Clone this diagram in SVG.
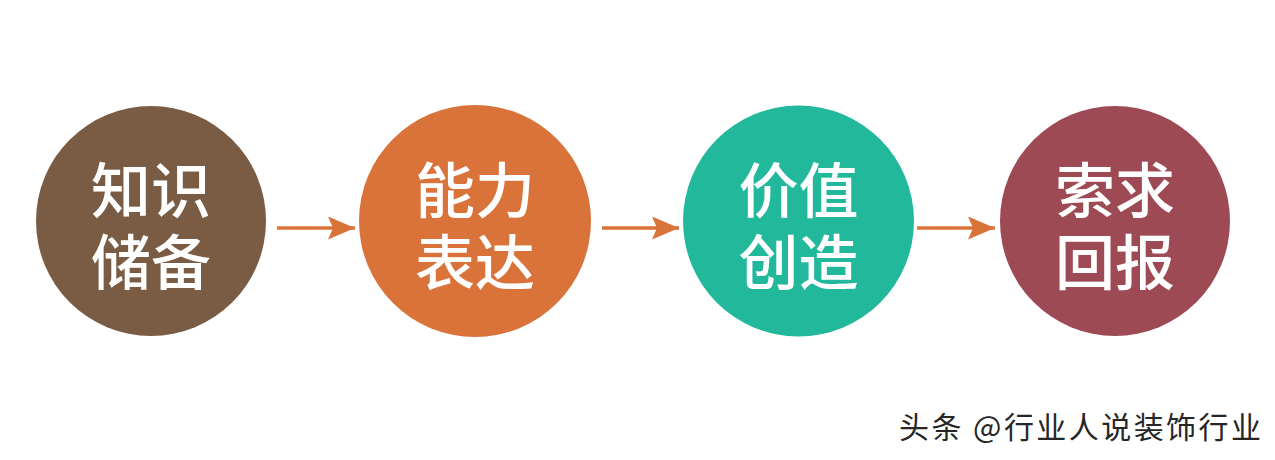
<svg xmlns="http://www.w3.org/2000/svg" width="1275" height="460" viewBox="0 0 1275 460">
  <style>
    .lbl { font-family: "Noto Sans CJK SC", "Noto Sans", sans-serif; font-size: 60px; font-weight: 500; fill: #ffffff; text-anchor: middle; }
    .conn { stroke: #d9733a; stroke-width: 3.5; fill: none; }
    .wm { font-family: "Noto Sans CJK SC", "Noto Sans", sans-serif; font-size: 30px; fill: #262626; }
  </style>
  <defs>
    <marker id="ah" markerUnits="userSpaceOnUse" markerWidth="28" markerHeight="24" refX="27" refY="11.5" orient="auto">
      <path d="M0,0 L27,11.5 L0,23 L5,11.5 z" fill="#d9733a"/>
    </marker>
  </defs>
  <rect width="1275" height="460" fill="#ffffff"/>

  <g id="node-knowledge">
    <circle cx="151" cy="221" r="115" fill="#7a5c44"/>
    <text class="lbl"><tspan x="151" y="213">知识</tspan><tspan x="151" y="285">储备</tspan></text>
  </g>
  <g id="node-ability">
    <circle cx="475" cy="221" r="116" fill="#d9733a"/>
    <text class="lbl"><tspan x="475" y="213">能力</tspan><tspan x="475" y="285">表达</tspan></text>
  </g>
  <g id="node-value">
    <circle cx="798.5" cy="221" r="115.5" fill="#22b89c"/>
    <text class="lbl"><tspan x="798.5" y="213">价值</tspan><tspan x="798.5" y="285">创造</tspan></text>
  </g>
  <g id="node-reward">
    <circle cx="1115" cy="221" r="115" fill="#9e4a54"/>
    <text class="lbl"><tspan x="1115" y="213">索求</tspan><tspan x="1115" y="285">回报</tspan></text>
  </g>

  <g id="connectors">
    <line class="conn" x1="277" y1="228" x2="355" y2="228" marker-end="url(#ah)"/>
    <line class="conn" x1="602" y1="228" x2="679" y2="228" marker-end="url(#ah)"/>
    <line class="conn" x1="917" y1="228" x2="995" y2="228" marker-end="url(#ah)"/>
  </g>

  <text class="wm" x="899" y="438" textLength="362" lengthAdjust="spacing">头条 @行业人说装饰行业</text>
</svg>
